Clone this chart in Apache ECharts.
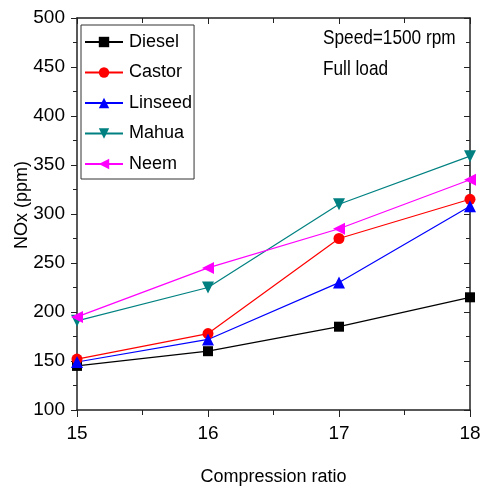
<!DOCTYPE html>
<html><head><meta charset="utf-8">
<script src="https://cdn.jsdelivr.net/npm/echarts@6/dist/echarts.min.js"></script>
<style>html,body{margin:0;padding:0;background:#fff}#c{width:482px;height:488px}</style>
</head><body><div id="c"></div>
<script>
const xValues = [15, 16, 17, 18];
const diesel = [145, 160, 185, 215];
const castor = [152, 178, 275, 315];
const linseed = [149, 172, 230, 308];
const mahua = [191, 225, 310, 359];
const neem = [195, 245, 285, 335];
const seriesNames = ['Diesel', 'Castor', 'Linseed', 'Mahua', 'Neem'];
const annotations = ['Speed=1500 rpm', 'Full load'];

const FONT = '"Liberation Sans", Arial, sans-serif';
const chart = echarts.init(document.getElementById('c'));
function mk(name, data, color, symbol, rot) {
  return {
    name, type: 'line', data: data.map((v, i) => [xValues[i], v]),
    symbol, symbolSize: symbol === 'circle' ? 11 : (symbol === 'rect' ? 10 : 12), symbolRotate: rot || 0,
    lineStyle: { color, width: 1.2 }, itemStyle: { color },
    clip: false, z: 3
  };
}
const axisCommon = {
  axisLine: { show: true, lineStyle: { color: '#222', width: 1.5 } },
  splitLine: { show: false },
  minorSplitLine: { show: false },
};
chart.setOption({
  animation: false,
  backgroundColor: '#fff',
  grid: { left: 77, right: 12, top: 18, bottom: 78, outerBoundsMode: 'none', containLabel: false },
  legend: {
    left: 81, top: 25, orient: 'vertical',
    itemWidth: 38, itemHeight: 13, itemGap: 12.5,
    padding: [8, 2, 6, 3],
    borderColor: '#333', borderWidth: 1,
    textStyle: { fontFamily: FONT, fontSize: 18, color: '#000', padding: [0, 0, 0, 1] },
    data: seriesNames
  },
  xAxis: [{
    type: 'value', min: 15, max: 18, interval: 1,
    name: 'Compression ratio', nameLocation: 'middle', nameGap: 58, nameMoveOverlap: false,
    nameTextStyle: { fontFamily: FONT, fontSize: 18, color: '#000' },
    axisLabel: { fontFamily: FONT, fontSize: 19, color: '#000', margin: 14 },
    axisTick: { inside: false, length: 7, lineStyle: { color: '#222' } },
    minorTick: { show: true, splitNumber: 2, length: 5, lineStyle: { color: '#222' } },
    ...axisCommon
  }, {
    type: 'value', min: 15, max: 18, interval: 1, position: 'top',
    axisLabel: { show: false },
    axisTick: { inside: true, length: 6, lineStyle: { color: '#222' } },
    minorTick: { show: true, splitNumber: 2, length: 5, lineStyle: { color: '#222' } },
    ...axisCommon
  }],
  yAxis: [{
    type: 'value', min: 100, max: 500, interval: 50,
    name: 'NOx (ppm)', nameLocation: 'middle', nameGap: 46, nameMoveOverlap: false,
    nameTextStyle: { fontFamily: FONT, fontSize: 18, color: '#000', padding: [0, 0, 0, 18] },
    axisLabel: { fontFamily: FONT, fontSize: 19, color: '#000', margin: 12 },
    axisTick: { inside: false, length: 6, lineStyle: { color: '#222' } },
    minorTick: { show: true, splitNumber: 2, length: 4, lineStyle: { color: '#222' } },
    ...axisCommon
  }, {
    type: 'value', min: 100, max: 500, interval: 50, position: 'right',
    axisLabel: { show: false },
    axisTick: { inside: true, length: 6, lineStyle: { color: '#222' } },
    minorTick: { show: true, splitNumber: 2, length: 4, lineStyle: { color: '#222' } },
    ...axisCommon
  }],
  graphic: [
    { type: 'text', x: 323, y: 28, scaleX: 0.82, style: { text: annotations[0], font: '21px ' + FONT, fill: '#000' } },
    { type: 'text', x: 323, y: 59, scaleX: 0.82, style: { text: annotations[1], font: '21px ' + FONT, fill: '#000' } }
  ],
  series: [
    mk('Diesel', diesel, '#000000', 'rect'),
    mk('Castor', castor, '#ff0000', 'circle'),
    mk('Linseed', linseed, '#0000ff', 'triangle'),
    mk('Mahua', mahua, '#008080', 'triangle', 180),
    mk('Neem', neem, '#ff00ff', 'triangle', 90)
  ]
});
</script></body></html>
